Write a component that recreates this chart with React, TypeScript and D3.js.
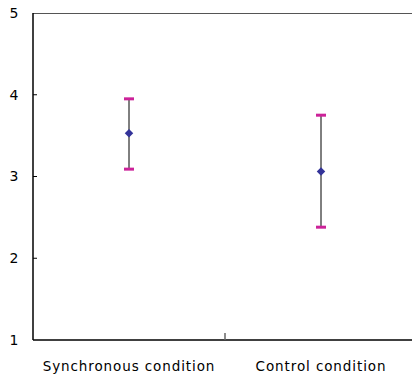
import React from "react";
import * as d3 from "d3";

const categories = ["Synchronous condition", "Control condition"];
const means = [3.53, 3.06];
const upper = [3.95, 3.75];
const lower = [3.09, 2.38];
const yTicks = [1, 2, 3, 4, 5];

export default function App() {
  const W = 412, H = 378;
  const left = 33, top = 13, bottom = 340, right = 417;
  const x = d3.scaleBand().domain(categories).range([left, right]);
  const y = d3.scaleLinear().domain([1, 5]).range([bottom, top]);
  const font = "'DejaVu Sans', sans-serif";
  const marker = d3.symbol().type(d3.symbolSquare).size(36)() as string;
  return (
    <svg width={W} height={H} style={{ position: "absolute", left: 0, top: 0 }}>
      <rect width={W} height={H} fill="#fff" />
      <line x1={left} x2={W} y1={top + 0.5} y2={top + 0.5} stroke="#555" strokeWidth={1} />
      <line x1={left} x2={W} y1={bottom} y2={bottom} stroke="#000" strokeWidth={1.5} />
      <line x1={left} x2={left} y1={top} y2={bottom} stroke="#000" strokeWidth={1.5} />
      {yTicks.map((t) => (
        <g key={t}>
          {t > 1 && t < 5 && (
            <line x1={left} x2={left + 4} y1={y(t)} y2={y(t)} stroke="#000" strokeWidth={1} />
          )}
          <text x={14} y={y(t)} dy="0.35em" textAnchor="middle" fontFamily={font} fontSize={14} fill="#000">
            {t}
          </text>
        </g>
      ))}
      {categories.slice(1).map((c) => (
        <line key={c} x1={x(c)!} x2={x(c)!} y1={bottom - 7} y2={bottom} stroke="#666" strokeWidth={1.5} />
      ))}
      {categories.map((c, i) => {
        const cx = x(c)! + x.bandwidth() / 2;
        return (
          <g key={c}>
            <line x1={cx} x2={cx} y1={y(upper[i])} y2={y(lower[i])} stroke="#000" strokeWidth={1} />
            <line x1={cx - 5} x2={cx + 5} y1={y(upper[i])} y2={y(upper[i])} stroke="#CC2299" strokeWidth={3} />
            <line x1={cx - 5} x2={cx + 5} y1={y(lower[i])} y2={y(lower[i])} stroke="#CC2299" strokeWidth={3} />
            <path d={marker} transform={`translate(${cx},${y(means[i])}) rotate(45)`} fill="#333399" />
            <text x={cx} y={366} dy="0.35em" textAnchor="middle" fontFamily={font} fontSize={13.5} letterSpacing={0.9} fill="#000">
              {c}
            </text>
          </g>
        );
      })}
    </svg>
  );
}
